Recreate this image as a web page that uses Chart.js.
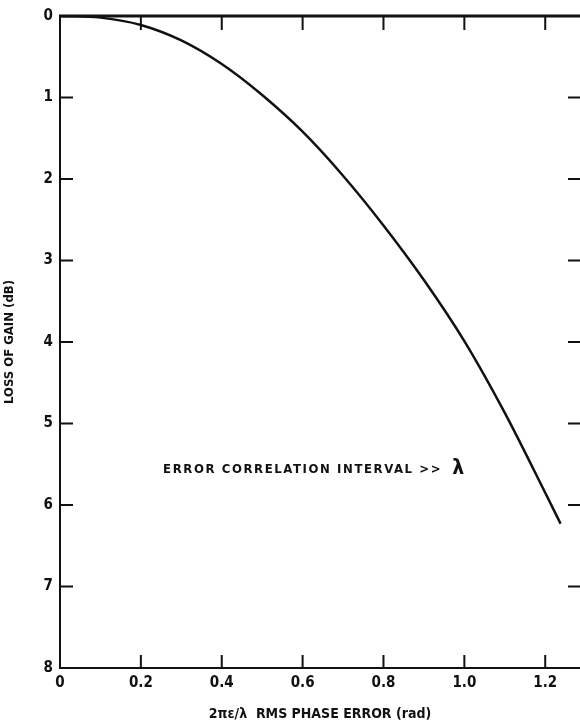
<!doctype html>
<html lang="en">
<head>
    <meta charset="utf-8">
    <style>
        html, body { margin: 0; padding: 0; background: #fff; }
        #wrap { width: 580px; height: 723px; position: relative; }
    </style>
    <script src="https://cdn.jsdelivr.net/npm/chart.js@4/dist/chart.umd.min.js"></script>
</head>
<body>
    <div id="wrap"><canvas id="myChart"></canvas></div>
    <script>
        // values
        const phaseError = [0, 0.1, 0.2, 0.3, 0.4, 0.5, 0.6, 0.7, 0.8, 0.9, 1.0, 1.1, 1.2, 1.238];
        const gainLoss = [0, 0.02, 0.11, 0.30, 0.59, 0.97, 1.42, 1.96, 2.57, 3.24, 3.99, 4.87, 5.85, 6.23];

        const xTicks = [0, 0.2, 0.4, 0.6, 0.8, 1.0, 1.2];
        const xTickLabels = ['0', '0.2', '0.4', '0.6', '0.8', '1.0', '1.2'];
        const yTicks = [0, 1, 2, 3, 4, 5, 6, 7, 8];

        const xTitle = '2\u03C0\u03B5/\u03BB  RMS PHASE ERROR (rad)';
        const yTitle = 'LOSS OF GAIN (dB)';
        const note = 'ERROR CORRELATION INTERVAL >>';

        const FONT = '"DejaVu Sans Condensed", "Liberation Sans Narrow", sans-serif';
        const INK = '#111';

        // frame, inward ticks and the note
        const framePlugin = {
            id: 'frame',
            afterDraw(chart) {
                const { ctx, chartArea: a } = chart;
                const xs = chart.scales.x, ys = chart.scales.y;
                ctx.save();
                ctx.strokeStyle = INK;
                ctx.lineCap = 'butt';

                ctx.lineWidth = 3;
                ctx.beginPath();
                ctx.moveTo(a.left - 1, a.top);
                ctx.lineTo(a.right, a.top);
                ctx.stroke();

                ctx.lineWidth = 2;
                ctx.beginPath();
                ctx.moveTo(a.left, a.top);
                ctx.lineTo(a.left, a.bottom);
                ctx.lineTo(a.right, a.bottom);
                ctx.stroke();

                xTicks.slice(1).forEach(v => {
                    const px = xs.getPixelForValue(v);
                    ctx.beginPath();
                    ctx.moveTo(px, a.bottom);
                    ctx.lineTo(px, a.bottom - 13);
                    ctx.moveTo(px, a.top);
                    ctx.lineTo(px, a.top + 14);
                    ctx.stroke();
                });
                yTicks.slice(1, -1).forEach(v => {
                    const py = ys.getPixelForValue(v);
                    ctx.beginPath();
                    ctx.moveTo(a.left, py);
                    ctx.lineTo(a.left + 13, py);
                    ctx.moveTo(a.right - 12, py);
                    ctx.lineTo(a.right, py);
                    ctx.stroke();
                });

                ctx.fillStyle = INK;
                ctx.textBaseline = 'alphabetic';
                ctx.textAlign = 'left';
                ctx.font = 'bold 13px ' + FONT;
                ctx.letterSpacing = '1.6px';
                const nx = xs.getPixelForValue(0.255);
                const ny = ys.getPixelForValue(5.61);
                ctx.fillText(note, nx, ny);
                const w = ctx.measureText(note).width;
                ctx.letterSpacing = '0px';
                ctx.font = 'bold 21px ' + FONT;
                ctx.fillText('\u03BB', nx + w + 10, ny + 1);
                ctx.restore();
            }
        };

        new Chart(document.getElementById('myChart'), {
            type: 'line',
            data: {
                datasets: [{
                    data: phaseError.map((x, i) => ({ x: x, y: gainLoss[i] })),
                    borderColor: INK,
                    borderWidth: 2.5,
                    pointRadius: 0,
                    cubicInterpolationMode: 'monotone',
                    fill: false
                }]
            },
            options: {
                responsive: true,
                maintainAspectRatio: false,
                animation: false,
                layout: { padding: { top: 14, right: 0, left: 0, bottom: 0 } },
                plugins: { legend: { display: false }, tooltip: { enabled: false } },
                scales: {
                    x: {
                        type: 'linear',
                        min: 0,
                        max: 1.286,
                        afterBuildTicks: s => { s.ticks = xTicks.map(v => ({ value: v })); },
                        afterFit: s => { s.height = 55; },
                        grid: { display: false, drawTicks: false },
                        border: { display: false },
                        ticks: {
                            color: INK,
                            padding: 6,
                            font: { family: FONT, size: 15, weight: 'bold' },
                            callback: (v) => xTickLabels[xTicks.indexOf(v)],
                            maxRotation: 0
                        },
                        title: {
                            display: true,
                            text: xTitle,
                            color: INK,
                            font: { family: FONT, size: 14, weight: 'bold' },
                            padding: { top: 2, bottom: 0 }
                        }
                    },
                    y: {
                        type: 'linear',
                        reverse: true,
                        min: 0,
                        max: 8,
                        afterBuildTicks: s => { s.ticks = yTicks.map(v => ({ value: v })); },
                        afterFit: s => { s.width = 60; },
                        grid: { display: false, drawTicks: false },
                        border: { display: false },
                        ticks: {
                            color: INK,
                            padding: 7,
                            font: { family: FONT, size: 15, weight: 'bold' }
                        },
                        title: {
                            display: true,
                            text: yTitle,
                            color: INK,
                            font: { family: FONT, size: 13, weight: 'bold' },
                            padding: { top: 2, bottom: 0 }
                        }
                    }
                }
            },
            plugins: [framePlugin]
        });
    </script>
</body>
</html>
